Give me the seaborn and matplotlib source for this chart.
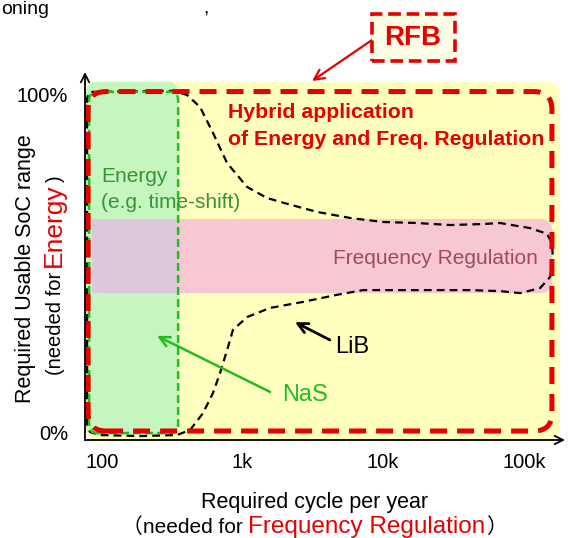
import matplotlib
matplotlib.use("Agg")
import matplotlib.pyplot as plt
from matplotlib.patches import FancyBboxPatch
import numpy as np
import pandas as pd
import seaborn as sns

sns.set_theme(style="white")
plt.rcParams["font.family"] = ["Liberation Sans", "Noto Sans CJK JP", "DejaVu Sans"]

W, H, DPI = 568, 538, 100

RED = "#E60000"
NAS_GREEN = "#22BB22"
ENERGY_GREEN = "#3A923A"
FREQ_TEXT = "#A04A5C"

# x axis: required cycles per year, in log10 units
cycle_ticks = [2, 3, 4, 5]
cycle_labels = ["100", "1k", "10k", "100k"]
soc_ticks = [0, 100]
soc_labels = ["0%", "100%"]
x_range = (1.881, 5.293)
y_range = (-2.37, 106.8)

# application regions: (log10 cycles from, to), (SoC % from, to)
hybrid_area_x = (1.888, 5.258)
hybrid_area_y = (-2.37, 103.9)
energy_area_x = (1.888, 2.542)
energy_area_y = (-0.9, 103.9)
freq_band_x = (1.931, 5.202)
freq_band_y = (41.2, 63.2)
rfb_x = (1.903, 5.200)
rfb_y = (0.3, 101.0)
nas_x = (1.910, 2.543)
nas_y = (-0.3, 100.9)

# LiB operating envelope (closed outline)
lib_log_cycles = [1.896, 1.896, 1.917, 2.507, 2.606, 2.699, 2.791, 2.891, 3.033,
                  3.176, 3.317, 3.530, 3.765, 3.999, 4.241, 4.476, 4.710, 4.831,
                  5.044, 5.165, 5.200, 5.208, 5.187, 5.116, 4.974, 4.831, 4.618,
                  4.333, 4.120, 3.857, 3.672, 3.431, 3.196, 3.033, 2.933, 2.891,
                  2.841, 2.791, 2.720, 2.628, 2.535, 2.272, 1.988, 1.917, 1.896]
lib_soc = [2.1, 99.1, 100.9, 101.2, 100.0, 96.4, 88.7, 79.8, 72.7,
           69.4, 67.7, 65.3, 63.5, 62.3, 62.0, 61.4, 61.7, 62.0,
           60.5, 58.8, 56.1, 51.0, 46.0, 42.7, 41.2, 41.8, 42.1,
           42.1, 42.1, 42.1, 40.7, 38.6, 36.8, 34.1, 30.3, 24.3,
           17.5, 11.6, 5.6, 0.6, -0.9, -1.2, -0.9, 0.0, 2.1]

fig = plt.figure(figsize=(W / DPI, H / DPI), dpi=DPI)
ax_w_px, ax_h_px = 480, 368
ax = fig.add_axes([85 / W, (H - 440) / H, ax_w_px / W, ax_h_px / H])
ax.set_xlim(*x_range)
ax.set_ylim(*y_range)

px_per_x = ax_w_px / (x_range[1] - x_range[0])
px_per_y = ax_h_px / (y_range[1] - y_range[0])


def rounded_box(xr, yr, radius_px, **kw):
    """Rounded rectangle in data units with corners of equal pixel radius."""
    patch = FancyBboxPatch(
        (xr[0], yr[0]), xr[1] - xr[0], yr[1] - yr[0],
        boxstyle=f"round,pad=0,rounding_size={radius_px / px_per_x}",
        mutation_aspect=px_per_x / px_per_y, **kw)
    ax.add_patch(patch)
    return patch


# filled regions
rounded_box(hybrid_area_x, hybrid_area_y, 14, facecolor="#FFFFBE", edgecolor="none", zorder=1)
rounded_box(energy_area_x, energy_area_y, 10, facecolor="#C6F6C0", edgecolor="none", zorder=2)
rounded_box(freq_band_x, freq_band_y, 12, facecolor="#F8C8D2", edgecolor="none", zorder=3)
ax.fill_between([freq_band_x[0], energy_area_x[1]], freq_band_y[0], freq_band_y[1],
                color="#DCC8DC", lw=0, zorder=3.1)

# LiB envelope
lib_df = pd.DataFrame({"log_cycles": lib_log_cycles, "soc": lib_soc})
sns.lineplot(data=lib_df, x="log_cycles", y="soc", sort=False, estimator=None,
             color="black", linewidth=1.6, linestyle=(0, (3.5, 2.3)), ax=ax, zorder=4)

# NaS and RFB outlines
rounded_box(nas_x, nas_y, 8, fill=False, edgecolor="#1FBF1F", lw=1.8,
            linestyle=(0, (3.2, 1.6)), zorder=5)
rounded_box(rfb_x, rfb_y, 18, fill=False, edgecolor=RED, lw=3.6,
            linestyle=(0, (3.4, 2.0)), zorder=6)

# axes with arrow heads
for sp in ax.spines.values():
    sp.set_visible(False)
arrow_kw = dict(arrowstyle="->,head_length=0.5,head_width=0.25", lw=1.3,
                color="black", shrinkA=0, shrinkB=0)
ax.annotate("", xy=(0, 1), xytext=(0, 0), xycoords="axes fraction",
            arrowprops=arrow_kw, annotation_clip=False, zorder=8)
ax.annotate("", xy=(1, 0), xytext=(0, 0), xycoords="axes fraction",
            arrowprops=arrow_kw, annotation_clip=False, zorder=8)

ax.set_xticks(cycle_ticks, cycle_labels, fontsize=14.5)
ax.set_yticks(soc_ticks, soc_labels, fontsize=14.5)
ax.tick_params(axis="x", length=0, pad=9, colors="black")
ax.tick_params(axis="y", length=0, pad=12, colors="black")
ax.set_xlabel("")
ax.set_ylabel("")
ax.grid(False)

# region annotations
ax.text(2.898, 94.7, "Hybrid application", color=RED, fontweight="bold",
        fontsize=15.3, ha="left", va="center", zorder=7)
ax.text(2.898, 86.9, "of Energy and Freq. Regulation", color=RED, fontweight="bold",
        fontsize=15.3, ha="left", va="center", zorder=7)
ax.text(1.996, 75.7, "Energy", color=ENERGY_GREEN, fontsize=15, ha="left", va="center", zorder=7)
ax.text(1.996, 68.0, "(e.g. time-shift)", color=ENERGY_GREEN, fontsize=15,
        ha="left", va="center", zorder=7)
ax.text(5.100, 51.6, "Frequency Regulation", color=FREQ_TEXT, fontsize=15,
        ha="right", va="center", zorder=7)

ax.text(3.658, 25.2, "LiB", color="black", fontsize=17, ha="left", va="center", zorder=7)
ax.annotate("", xy=(3.374, 32.6), xytext=(3.622, 27.3),
            arrowprops=dict(arrowstyle="->,head_length=0.6,head_width=0.3", lw=2,
                            color="black", shrinkA=0, shrinkB=0), zorder=7)
ax.text(3.281, 11.0, "NaS", color=NAS_GREEN, fontsize=17, ha="left", va="center", zorder=7)
ax.annotate("", xy=(2.393, 28.5), xytext=(3.196, 11.9),
            arrowprops=dict(arrowstyle="->,head_length=0.6,head_width=0.3", lw=1.8,
                            color=NAS_GREEN, shrinkA=0, shrinkB=0), zorder=7)

# RFB call-out box
fig.add_artist(FancyBboxPatch((372 / W, (H - 61) / H), 83 / W, 47 / H,
                              boxstyle="square,pad=0", transform=fig.transFigure,
                              facecolor="#FFFFE6", edgecolor=RED, lw=2.6,
                              linestyle=(0, (3.5, 1.6))))
fig.text(413 / W, (H - 38) / H, "RFB", color=RED, fontweight="bold", fontsize=20,
         ha="center", va="center")
ax.annotate("", xy=(312, H - 81), xycoords="figure pixels",
            xytext=(372, H - 40), textcoords="figure pixels",
            arrowprops=dict(arrowstyle="->,head_length=0.6,head_width=0.3", lw=1.6,
                            color=RED, shrinkA=0, shrinkB=0),
            annotation_clip=False)

# heading fragment at the top edge
fig.text(1 / W, (H - 1) / H, "oning", fontsize=14, color="black", ha="left", va="top")
fig.text(203 / W, (H - 1) / H, ",", fontsize=14, color="black", ha="left", va="top")

renderer = fig.canvas.get_renderer()

# x axis title
fig.text(315 / W, (H - 508) / H, "Required cycle per year", fontsize=15.5,
         color="black", ha="center", va="baseline")
x_pos = 122
for s, c, fs, gap in [("（needed for", "black", 15, 5),
                      ("Frequency Regulation", RED, 17.5, 1),
                      ("）", "black", 15, 0)]:
    t = fig.text(x_pos / W, (H - 533) / H, s, color=c, fontsize=fs,
                 ha="left", va="baseline")
    x_pos = t.get_window_extent(renderer).x1 + gap

# y axis title
fig.text(31 / W, 269 / H, "Required Usable SoC range", fontsize=15.5, color="black",
         rotation=90, rotation_mode="anchor", ha="center", va="baseline")
y_pos = H - 375
for s, c, fs, gap in [("(needed for", "black", 14.5, 5),
                      ("Energy", RED, 19, 1),
                      (")", "black", 14.5, 0)]:
    t = fig.text(61 / W, y_pos / H, s, color=c, fontsize=fs, rotation=90,
                 rotation_mode="anchor", ha="left", va="baseline")
    y_pos = t.get_window_extent(renderer).y1 + gap

fig.savefig("out.png", dpi=DPI, facecolor="white")
